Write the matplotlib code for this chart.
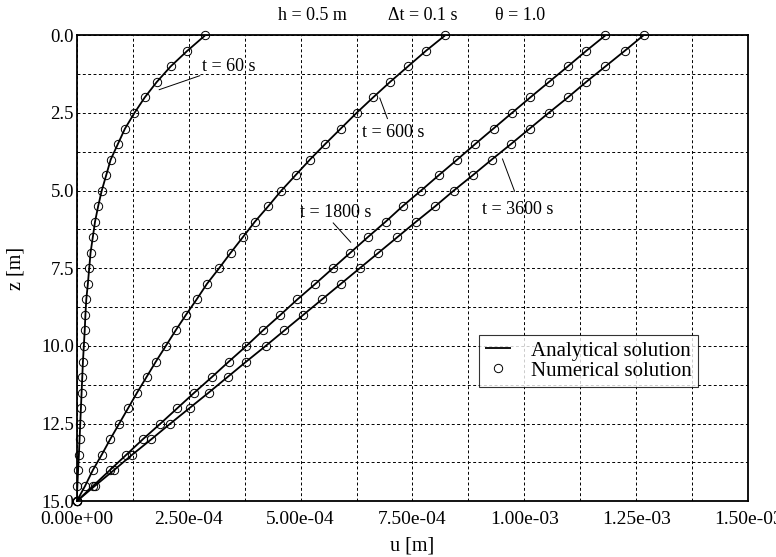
import matplotlib
matplotlib.use("Agg")
import matplotlib.pyplot as plt
from matplotlib.ticker import MultipleLocator, FormatStrFormatter, FuncFormatter

plt.rcParams["font.family"] = ["Liberation Serif", "DejaVu Serif"]
plt.rcParams["mathtext.fontset"] = "stix"

# Depth of the nodes [m]
z_nodes = [0.0, 0.5, 1.0, 1.5, 2.0, 2.5, 3.0, 3.5, 4.0, 4.5, 5.0, 5.5, 6.0, 6.5, 7.0, 7.5,
           8.0, 8.5, 9.0, 9.5, 10.0, 10.5, 11.0, 11.5, 12.0, 12.5, 13.0, 13.5, 14.0, 14.5, 15.0]

# Displacement profiles u(z) [1e-6 m] at the four output times
u_t60 = [287, 247, 210, 179, 152, 129, 108, 92, 76, 66, 56, 48, 41, 36, 31, 28,
         25, 21.5, 19.5, 18, 16, 14, 12.5, 11, 9.5, 8, 6.5, 5, 3.2, 1.6, 0]
u_t600 = [823, 780, 740, 700, 662, 625, 590, 555, 521, 489, 457, 428, 398, 371, 344, 318,
          291, 268, 244, 221, 199, 177, 156, 135, 115, 95, 75, 56, 36, 19, 0]
u_t1800 = [1181, 1138, 1097, 1055, 1013, 972, 931, 890, 850, 809, 769, 728, 690, 650, 611, 572,
           533, 493, 455, 416, 379, 340, 302, 263, 225, 187, 148, 111, 74, 37, 0]
u_t3600 = [1266, 1224, 1181, 1138, 1097, 1054, 1012, 970, 927, 885, 842, 801, 758, 716, 674, 632,
           590, 548, 506, 464, 422, 379, 337, 295, 252, 209, 167, 124, 83, 41, 0]

profiles = [u_t60, u_t600, u_t1800, u_t3600]

# Curve labels: (text, text position, leader start, leader end) in data units (u [m], z [m])
curve_labels = [
    ("t = 60 s",   (2.80e-4, 1.00), (1.844e-4, 1.75), (2.75e-4, 1.30)),
    ("t = 600 s",  (6.375e-4, 3.12), (6.77e-4, 2.02), (6.94e-4, 2.68)),
    ("t = 1800 s", (4.98e-4, 5.70), (5.73e-4, 6.04), (6.12e-4, 6.66)),
    ("t = 3600 s", (9.06e-4, 5.61), (9.51e-4, 3.98), (9.78e-4, 5.02)),
]

title_parts = [("h = 0.5 m", 0.3503), ("\u0394t = 0.1 s", 0.5149), ("\u03b8 = 1.0", 0.6600)]

fig = plt.figure(figsize=(7.76, 5.57), dpi=100)
ax = fig.add_axes([0.0988, 0.1000, 0.8655, 0.8366])

for k, u in enumerate(profiles):
    u_m = [v * 1e-6 for v in u]
    ax.plot(u_m, z_nodes, color="black", lw=1.3, solid_capstyle="butt",
            label="Analytical solution" if k == 0 else None, zorder=3)
    ax.plot(u_m, z_nodes, ls="none", marker="o", ms=6.0, mfc="none", mec="black",
            mew=0.7, label="Numerical solution" if k == 0 else None, zorder=4, clip_on=False)

for text, tpos, p0, p1 in curve_labels:
    ax.plot([p0[0], p1[0]], [p0[1], p1[1]], color="black", lw=0.7, zorder=3)
    ax.text(tpos[0], tpos[1], text, fontsize=13, ha="left", va="center", zorder=5)

ax.set_xlim(0, 1.5e-3)
ax.set_ylim(15, 0)
ax.xaxis.set_major_locator(MultipleLocator(2.5e-4))
ax.xaxis.set_minor_locator(MultipleLocator(1.25e-4))
ax.yaxis.set_major_locator(MultipleLocator(2.5))
ax.yaxis.set_minor_locator(MultipleLocator(1.25))
ax.xaxis.set_major_formatter(FuncFormatter(lambda v, p: f"{v:.2e}"))
ax.yaxis.set_major_formatter(FormatStrFormatter("%.1f"))
ax.tick_params(which="both", length=0)
ax.tick_params(axis="x", labelsize=14, pad=7)
ax.tick_params(axis="y", labelsize=13.5, pad=2)

ax.grid(which="both", color="black", ls=(0, (3, 2.5)), lw=0.7)
ax.set_axisbelow(True)
for s in ax.spines.values():
    s.set_linewidth(1.3)

ax.set_xlabel("u [m]", fontsize=14.5, labelpad=6)
ax.set_ylabel("z [m]", fontsize=14.5, labelpad=11)

for text, xf in title_parts:
    ax.text(xf, 1.043, text, transform=ax.transAxes, fontsize=13, ha="center", va="center")

leg = ax.legend(loc="upper left", bbox_to_anchor=(0.5995, 0.3562), borderaxespad=0,
                fancybox=False, frameon=True, edgecolor="black", fontsize=15,
                handlelength=1.25, handletextpad=0.95, borderpad=0.28, labelspacing=0.02)
leg.get_frame().set_linewidth(0.8)
leg.set_zorder(6)

fig.savefig("out.png", dpi=100)
